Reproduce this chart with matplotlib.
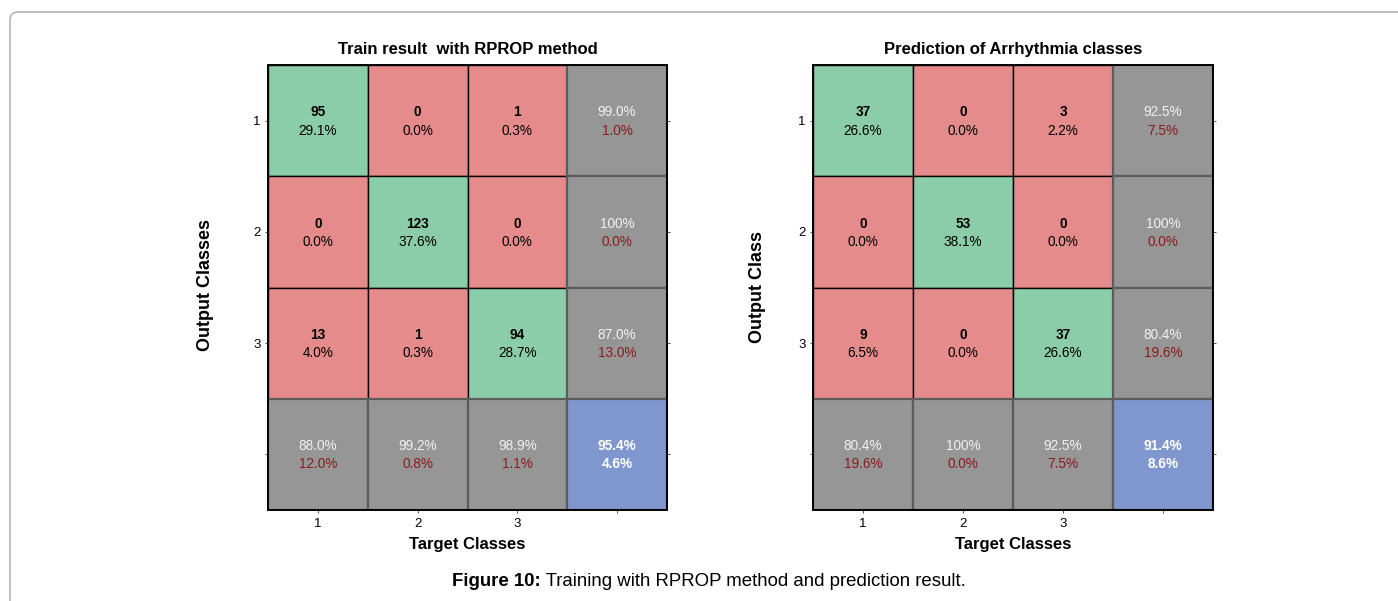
import matplotlib
matplotlib.use("Agg")
import matplotlib.pyplot as plt
from matplotlib.patches import Rectangle, FancyBboxPatch
import numpy as np

plt.rcParams['font.family'] = ['Liberation Sans', 'DejaVu Sans']

# ---- data ----
classes = ["1", "2", "3"]
train_counts = [[95, 0, 1],
                [0, 123, 0],
                [13, 1, 94]]
pred_counts = [[37, 0, 3],
               [0, 53, 0],
               [9, 0, 37]]
train_title = "Train result  with RPROP method"
pred_title = "Prediction of Arrhythmia classes"
train_ylabel = "Output Classes"
pred_ylabel = "Output Class"
xlabel_text = "Target Classes"
caption_bold = "Figure 10:"
caption_rest = " Training with RPROP method and prediction result."

GREEN = "#8BCDA9"
RED = "#E68B8B"
GRAY = "#969696"
BLUE = "#7F96CE"
GRAY_EDGE = "#5c5c5c"
LIGHT_TXT = "#F2F2F2"
DARK_RED_TXT = "#8A1C1C"

W, H = 1398, 601


def fmt_pct(v):
    if abs(v - 100) < 1e-9:
        return "100%"
    return f"{v:.1f}%"


def draw_conf(ax, counts, title):
    c = np.array(counts, dtype=float)
    n = c.shape[0]
    total = c.sum()
    fs = 9.8
    # main cells
    for i in range(n):
        for j in range(n):
            col = GREEN if i == j else RED
            ax.add_patch(Rectangle((j + 0.5, i + 0.5), 1, 1, facecolor=col,
                                   edgecolor="black", lw=1.0, zorder=1))
            ax.text(j + 1, i + 1 - 0.075, f"{int(c[i, j])}", ha="center", va="center",
                    fontsize=fs, fontweight="bold", color="black", zorder=5)
            ax.text(j + 1, i + 1 + 0.09, fmt_pct(100 * c[i, j] / total), ha="center",
                    va="center", fontsize=fs, color="black", zorder=5)
    # row summaries (right column)
    for i in range(n):
        rs = c[i].sum()
        p = 100 * c[i, i] / rs
        ax.add_patch(Rectangle((n + 0.5, i + 0.5), 1, 1, facecolor=GRAY,
                               edgecolor=GRAY_EDGE, lw=1.6, zorder=2))
        ax.text(n + 1, i + 1 - 0.075, fmt_pct(p), ha="center", va="center",
                fontsize=fs, color=LIGHT_TXT, zorder=5)
        ax.text(n + 1, i + 1 + 0.09, fmt_pct(100 - p), ha="center", va="center",
                fontsize=fs, color=DARK_RED_TXT, zorder=5)
    # column summaries (bottom row)
    for j in range(n):
        cs = c[:, j].sum()
        p = 100 * c[j, j] / cs
        ax.add_patch(Rectangle((j + 0.5, n + 0.5), 1, 1, facecolor=GRAY,
                               edgecolor=GRAY_EDGE, lw=1.6, zorder=2))
        ax.text(j + 1, n + 1 - 0.075, fmt_pct(p), ha="center", va="center",
                fontsize=fs, color=LIGHT_TXT, zorder=5)
        ax.text(j + 1, n + 1 + 0.09, fmt_pct(100 - p), ha="center", va="center",
                fontsize=fs, color=DARK_RED_TXT, zorder=5)
    # overall
    p = 100 * np.trace(c) / total
    ax.add_patch(Rectangle((n + 0.5, n + 0.5), 1, 1, facecolor=BLUE,
                           edgecolor=GRAY_EDGE, lw=1.6, zorder=2))
    ax.text(n + 1, n + 1 - 0.075, fmt_pct(p), ha="center", va="center",
            fontsize=fs, fontweight="bold", color="white", zorder=5)
    ax.text(n + 1, n + 1 + 0.09, fmt_pct(100 - p), ha="center", va="center",
            fontsize=fs, fontweight="bold", color="white", zorder=5)

    ax.set_xlim(0.5, n + 1.5)
    ax.set_ylim(n + 1.5, 0.5)
    ticks = list(range(1, n + 2))
    labels = classes + [""]
    ax.set_xticks(ticks)
    ax.set_xticklabels(labels, fontsize=9.5)
    ax.set_yticks(ticks)
    ax.set_yticklabels(labels, fontsize=9.5)
    ax.tick_params(axis="both", direction="out", length=2.5, width=0.6,
                   color="#333333", pad=3)
    ax.tick_params(axis="y", right=True)
    for s in ax.spines.values():
        s.set_linewidth(1.4)
        s.set_color("black")
        s.set_zorder(6)
    ax.set_title(title, fontsize=12, fontweight="bold", pad=8)
    ax.set_xlabel(xlabel_text, fontsize=12, fontweight="bold", labelpad=5)


fig = plt.figure(figsize=(W / 100, H / 100), dpi=100)

ax1 = fig.add_axes([268 / W, 1 - 510 / H, 399 / W, 445 / H])
ax2 = fig.add_axes([813 / W, 1 - 510 / H, 400 / W, 445 / H])
draw_conf(ax1, train_counts, train_title)
draw_conf(ax2, pred_counts, pred_title)

# y labels (placed by pixel position)
fig.text(205 / W, 1 - 285 / H, train_ylabel, rotation=90, fontsize=13,
         fontweight="bold", ha="center", va="center")
fig.text(757 / W, 1 - 287 / H, pred_ylabel, rotation=90, fontsize=13,
         fontweight="bold", ha="center", va="center")

# caption
t1 = fig.text(452 / W, 1 - 581 / H, caption_bold, fontsize=13.4,
              fontweight="bold", ha="left", va="center")
fig.canvas.draw()
bb = t1.get_window_extent()
fig.text(bb.x1 / W, 1 - 581 / H, caption_rest, fontsize=13.4,
         ha="left", va="center")

# page frame
frame = FancyBboxPatch((0.10, -1.0), 20.0, 5.89 + 1.0,
                       boxstyle="round,pad=0,rounding_size=0.08",
                       transform=fig.dpi_scale_trans, facecolor="none",
                       edgecolor="#b4b4b4", lw=1.2, clip_on=False)
fig.patches.append(frame)

fig.savefig("out.png", dpi=100)
